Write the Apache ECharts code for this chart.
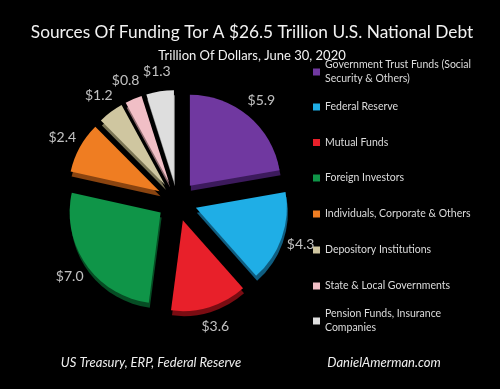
<!DOCTYPE html>
<html><head><meta charset="utf-8">
<script src="https://cdn.jsdelivr.net/npm/echarts@6/dist/echarts.min.js"></script>
<style>html,body{margin:0;padding:0;background:#000;}#c{width:500px;height:389px;}</style>
</head><body><div id="c"></div>
<script>
const categories = ["Government Trust Funds (Social Security & Others)","Federal Reserve","Mutual Funds","Foreign Investors","Individuals, Corporate & Others","Depository Institutions","State & Local Governments","Pension Funds, Insurance Companies"];
const legendLabels = ["Government Trust Funds (Social\nSecurity & Others)","Federal Reserve","Mutual Funds","Foreign Investors","Individuals, Corporate & Others","Depository Institutions","State & Local Governments","Pension Funds, Insurance\nCompanies"];
const values = [5.9, 4.3, 3.6, 7.0, 2.4, 1.2, 0.8, 1.3];
const colors = ["#7038a0","#1faee6","#e8202a","#0f9548","#ef7d22","#cfc6a0","#f1bfc6","#dedede"];
const shades = ["#3c1a5c","#0f5d80","#7a0c12","#064d24","#8a4410","#7a7455","#8c6a6e","#7f7f7f"];

const total = values.reduce((a, b) => a + b, 0);
let acc = 0;
const labelPoints = values.map(v => { const mid = acc + v / 2; acc += v; return { value: [131, mid], raw: v }; });

const chart = echarts.init(document.getElementById('c'));
const legendCenters = [72, 107, 142.5, 178, 214, 250, 286, 321];
const legends = categories.map((n, i) => {
  const two = legendLabels[i].indexOf('\n') >= 0;
  return {
    data: [n], orient: 'vertical', left: 313, top: legendCenters[i] - (two ? 21 : 7), padding: 0,
    icon: 'rect', itemWidth: 7, itemHeight: 7, itemGap: 0, selectedMode: false,
    formatter: () => legendLabels[i],
    textStyle: { color: '#dcdcdc', fontFamily: 'Lato', fontSize: 10.5, lineHeight: 14, padding: two ? [14,0,0,0] : 0 }
  };
});
chart.setOption({
  backgroundColor: '#000',
  title: [
    { text: 'Sources Of Funding Tor A $26.5 Trillion U.S. National Debt', left: 247, top: 19, textAlign: 'center',
      textStyle: { color: '#f2f2f2', fontFamily: 'Lato', fontSize: 17.3, fontWeight: 'normal' } },
    { text: 'Trillion Of Dollars, June 30, 2020', left: 247, top: 44, textAlign: 'center',
      textStyle: { color: '#f2f2f2', fontFamily: 'Lato', fontSize: 13, fontWeight: 'normal' } },
    { text: 'US Treasury, ERP, Federal Reserve', left: 146, top: 351, textAlign: 'center',
      textStyle: { color: '#eeeeee', fontFamily: 'Lato', fontSize: 13, fontStyle: 'italic', fontWeight: 'normal' } },
    { text: 'DanielAmerman.com', left: 379, top: 351, textAlign: 'center',
      textStyle: { color: '#eeeeee', fontFamily: 'Lato', fontSize: 13, fontStyle: 'italic', fontWeight: 'normal' } }
  ],
  legend: legends,
  polar: { center: [177, 201], radius: [0, 150] },
  angleAxis: { type: 'value', min: 0, max: total, startAngle: 90, clockwise: true, show: false },
  radiusAxis: { type: 'value', min: 0, max: 150, show: false },
  series: [{
    type: 'pie', center: [177, 201], radius: [0, 91], startAngle: 90, clockwise: true,
    selectedMode: 'multiple', selectedOffset: 20, animation: false,
    label: { show: false },
    labelLine: { show: false },
    emphasis: { disabled: true },
    data: categories.map((n, i) => ({
      name: n, value: values[i], selected: true,
      itemStyle: { color: colors[i], shadowColor: shades[i], shadowBlur: 0, shadowOffsetX: 1, shadowOffsetY: 5 }
    }))
  }, {
    type: 'scatter', name: 'valueLabels', coordinateSystem: 'polar', symbolSize: 1, silent: true, animation: false,
    itemStyle: { color: 'rgba(0,0,0,0)' },
    label: { show: true, position: 'inside', color: '#f0f0f0', fontFamily: 'Lato', fontSize: 14,
      formatter: p => '$' + p.data.raw.toFixed(1) },
    emphasis: { disabled: true },
    data: labelPoints
  }]
});
</script></body></html>
